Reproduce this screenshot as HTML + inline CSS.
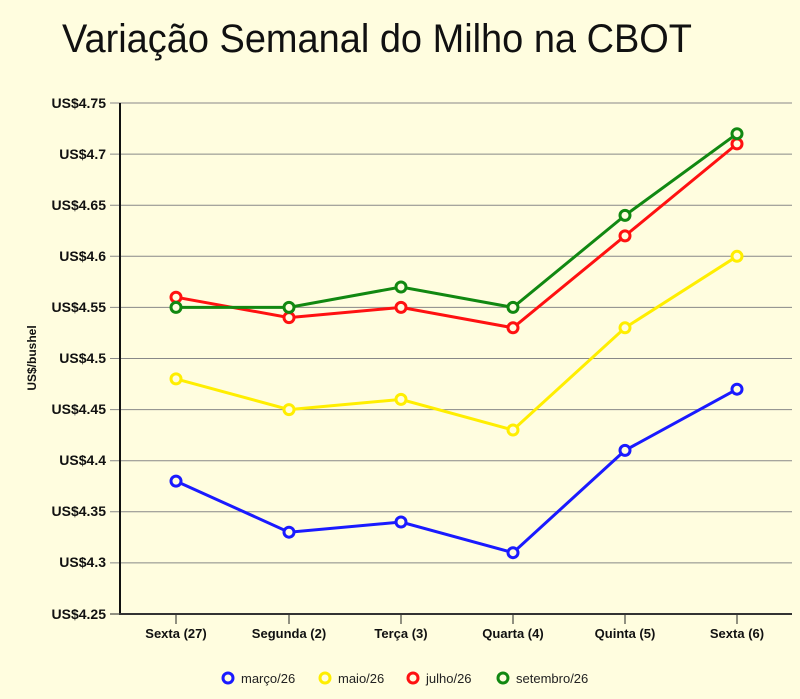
<!DOCTYPE html><html><head><meta charset="utf-8"><style>body{margin:0;background:#fffddf}</style></head><body>
<svg width="800" height="694" xmlns="http://www.w3.org/2000/svg" font-family="Liberation Sans, sans-serif">
<rect width="800" height="694" fill="#fffddf"/>
<text x="62" y="52" font-size="40" fill="#111" textLength="630" lengthAdjust="spacingAndGlyphs">Variação Semanal do Milho na CBOT</text>
<g stroke="#888" stroke-width="1">
<line x1="110" x2="792" y1="103" y2="103"/><line x1="110" x2="792" y1="154.1" y2="154.1"/><line x1="110" x2="792" y1="205.2" y2="205.2"/><line x1="110" x2="792" y1="256.3" y2="256.3"/><line x1="110" x2="792" y1="307.4" y2="307.4"/><line x1="110" x2="792" y1="358.5" y2="358.5"/><line x1="110" x2="792" y1="409.6" y2="409.6"/><line x1="110" x2="792" y1="460.7" y2="460.7"/><line x1="110" x2="792" y1="511.8" y2="511.8"/><line x1="110" x2="792" y1="562.9" y2="562.9"/>
</g>
<g stroke="#222" stroke-width="1"><line x1="110" x2="120" y1="614" y2="614"/>
<line x1="176" x2="176" y1="614" y2="624"/><line x1="289" x2="289" y1="614" y2="624"/><line x1="401" x2="401" y1="614" y2="624"/><line x1="513" x2="513" y1="614" y2="624"/><line x1="625" x2="625" y1="614" y2="624"/><line x1="737" x2="737" y1="614" y2="624"/></g>
<line x1="120" y1="103" x2="120" y2="615" stroke="#111" stroke-width="2"/>
<line x1="119" y1="614" x2="792" y2="614" stroke="#333" stroke-width="2"/>
<g font-size="14" font-weight="bold" fill="#111" text-anchor="end">
<text x="106" y="108">US$4.75</text><text x="106" y="159">US$4.7</text><text x="106" y="210">US$4.65</text><text x="106" y="261">US$4.6</text><text x="106" y="312">US$4.55</text><text x="106" y="363">US$4.5</text><text x="106" y="414">US$4.45</text><text x="106" y="465">US$4.4</text><text x="106" y="516">US$4.35</text><text x="106" y="567">US$4.3</text><text x="106" y="619">US$4.25</text></g>
<g font-size="13" font-weight="bold" fill="#111" text-anchor="middle">
<text x="176" y="638">Sexta (27)</text><text x="289" y="638">Segunda (2)</text><text x="401" y="638">Terça (3)</text><text x="513" y="638">Quarta (4)</text><text x="625" y="638">Quinta (5)</text><text x="737" y="638">Sexta (6)</text></g>
<text transform="translate(36,358) rotate(-90)" font-size="12" font-weight="bold" text-anchor="middle" fill="#111">US$/bushel</text>
<g fill="#fffddf" stroke-width="3">
<polyline fill="none" stroke="#1a1aff" points="176,481.1 289,532.2 401,522 513,552.7 625,450.4 737,389.2"/>
<polyline fill="none" stroke="#ffee00" points="176,378.9 289,409.6 401,399.4 513,430 625,327.8 737,256.3"/>
<polyline fill="none" stroke="#ff1111" points="176,297.2 289,317.6 401,307.4 513,327.8 625,235.9 737,143.9"/>
<polyline fill="none" stroke="#118811" points="176,307.4 289,307.4 401,287 513,307.4 625,215.4 737,133.7"/>
<g stroke="#1a1aff"><circle cx="176" cy="481.1" r="5"/><circle cx="289" cy="532.2" r="5"/><circle cx="401" cy="522" r="5"/><circle cx="513" cy="552.7" r="5"/><circle cx="625" cy="450.4" r="5"/><circle cx="737" cy="389.2" r="5"/></g>
<g stroke="#ffee00"><circle cx="176" cy="378.9" r="5"/><circle cx="289" cy="409.6" r="5"/><circle cx="401" cy="399.4" r="5"/><circle cx="513" cy="430" r="5"/><circle cx="625" cy="327.8" r="5"/><circle cx="737" cy="256.3" r="5"/></g>
<g stroke="#ff1111"><circle cx="176" cy="297.2" r="5"/><circle cx="289" cy="317.6" r="5"/><circle cx="401" cy="307.4" r="5"/><circle cx="513" cy="327.8" r="5"/><circle cx="625" cy="235.9" r="5"/><circle cx="737" cy="143.9" r="5"/></g>
<g stroke="#118811"><circle cx="176" cy="307.4" r="5"/><circle cx="289" cy="307.4" r="5"/><circle cx="401" cy="287" r="5"/><circle cx="513" cy="307.4" r="5"/><circle cx="625" cy="215.4" r="5"/><circle cx="737" cy="133.7" r="5"/></g>
<circle cx="228" cy="678" r="5" stroke="#1a1aff"/><circle cx="325" cy="678" r="5" stroke="#ffee00"/><circle cx="413" cy="678" r="5" stroke="#ff1111"/><circle cx="503" cy="678" r="5" stroke="#118811"/>
</g>
<g font-size="13" fill="#222"><text x="241" y="683">março/26</text><text x="338" y="683">maio/26</text><text x="426" y="683">julho/26</text><text x="516" y="683">setembro/26</text></g>
</svg></body></html>
